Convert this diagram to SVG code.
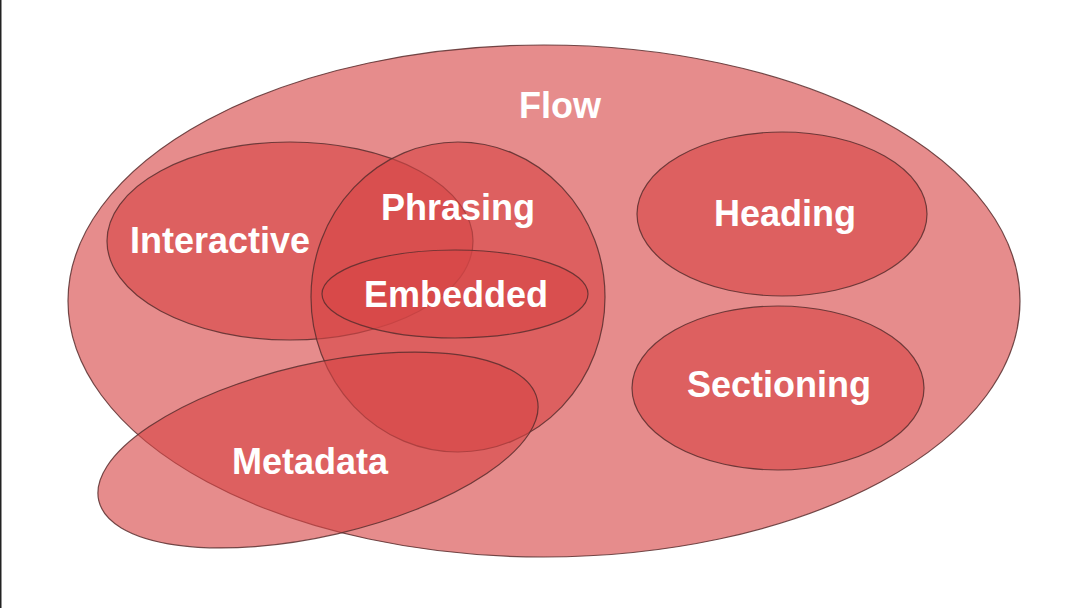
<svg xmlns="http://www.w3.org/2000/svg" width="1080" height="608" viewBox="0 0 1080 608">
<style>
.set{fill:rgb(215,70,70);fill-opacity:0.62;stroke:#5a2e2e;stroke-opacity:0.85;stroke-width:1.2}
.lbl{font-family:"Liberation Sans",Arial,sans-serif;font-weight:bold;font-size:36px;fill:#ffffff;text-anchor:middle}
</style>
<rect x="0" y="0" width="1080" height="608" fill="#ffffff"/>
<line x1="0.75" y1="0" x2="0.75" y2="608" stroke="#222" stroke-width="1.5"/>
<g id="connectors"></g>
<g id="flow">
<ellipse class="set" cx="544" cy="301" rx="476" ry="256"/>
<text class="lbl" x="560" y="118">Flow</text>
</g>
<g id="interactive">
<ellipse class="set" cx="290" cy="241" rx="183" ry="99"/>
<text class="lbl" x="220" y="253" font-size="37">Interactive</text>
</g>
<g id="phrasing">
<ellipse class="set" cx="458" cy="297" rx="147" ry="155"/>
<text class="lbl" x="458" y="220">Phrasing</text>
</g>
<g id="embedded">
<ellipse class="set" cx="455" cy="294" rx="133" ry="44"/>
<text class="lbl" x="456" y="307">Embedded</text>
</g>
<g id="heading">
<ellipse class="set" cx="782" cy="214" rx="145" ry="82"/>
<text class="lbl" x="785" y="226">Heading</text>
</g>
<g id="sectioning">
<ellipse class="set" cx="778" cy="388" rx="146" ry="82"/>
<text class="lbl" x="779" y="397">Sectioning</text>
</g>
<g id="metadata">
<ellipse class="set" cx="318" cy="450" rx="225" ry="86" transform="rotate(-13 318 450)"/>
<text class="lbl" x="310" y="474">Metadata</text>
</g>
</svg>
